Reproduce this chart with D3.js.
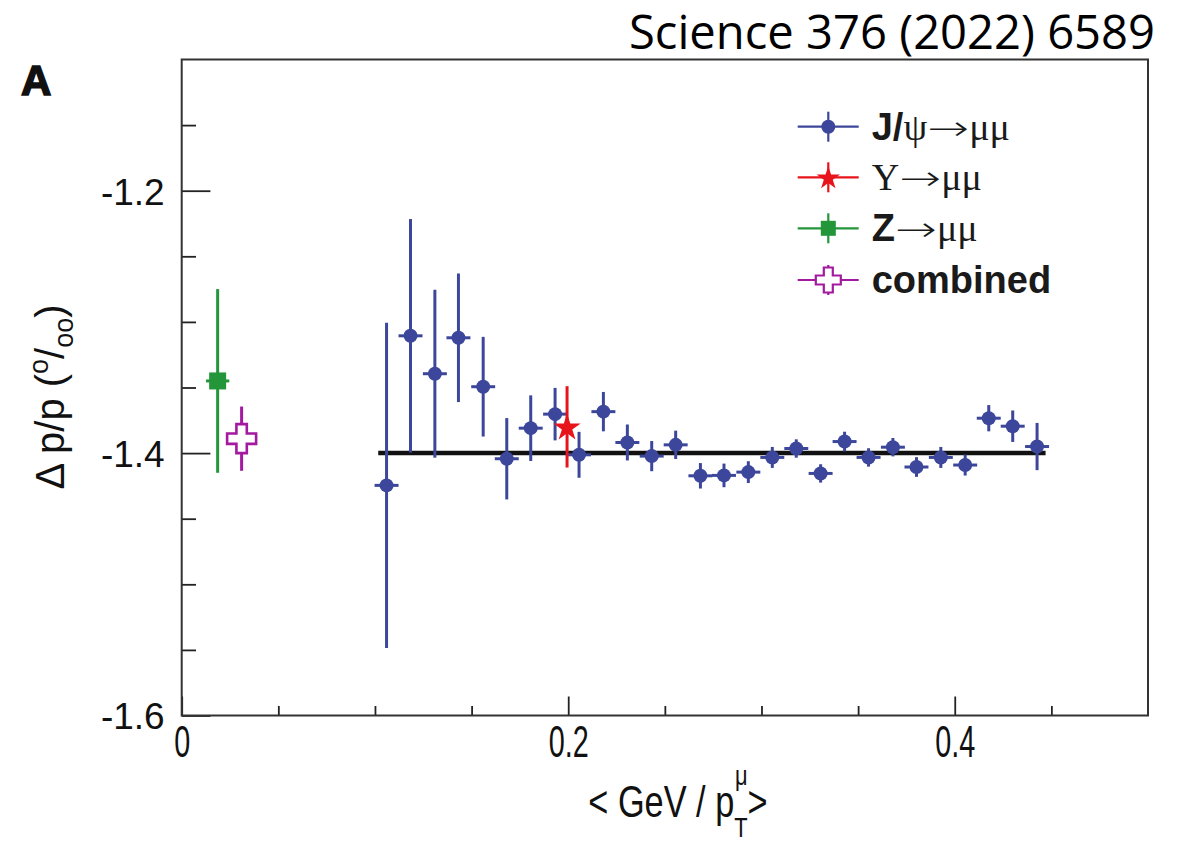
<!DOCTYPE html>
<html>
<head>
<meta charset="utf-8">
<script src="https://cdn.jsdelivr.net/npm/d3@7"></script>
<style>
  html, body { margin: 0; padding: 0; background: #fff; }
  svg { display: block; }
</style>
</head>
<body>
<svg id="chart" width="1181" height="843"></svg>
<script>
// J/psi -> mumu bins: mean GeV/pT, momentum scale offset (per mille), stat. error
const jpsiX = [0.106, 0.1184, 0.131, 0.1432, 0.156, 0.1682, 0.1806, 0.1932, 0.2056, 0.2182,
               0.2306, 0.2432, 0.2556, 0.2684, 0.2806, 0.2932, 0.3056, 0.318, 0.3306, 0.343,
               0.3554, 0.368, 0.3802, 0.3928, 0.4054, 0.4176, 0.43, 0.4426];
const jpsiY = [-1.4246, -1.3106, -1.3395, -1.3121, -1.3494, -1.4043, -1.381, -1.3703, -1.4013, -1.3684,
               -1.3919, -1.4023, -1.3937, -1.4173, -1.417, -1.4145, -1.4033, -1.3965, -1.4155, -1.3912,
               -1.4033, -1.3955, -1.4106, -1.4033, -1.4091, -1.3734, -1.3795, -1.395];
const jpsiErr = [0.124, 0.089, 0.064, 0.049, 0.038, 0.031, 0.025, 0.020, 0.0175, 0.015,
                 0.0137, 0.0115, 0.0108, 0.0097, 0.009, 0.0083, 0.008, 0.007, 0.007, 0.0075,
                 0.007, 0.007, 0.0075, 0.008, 0.008, 0.010, 0.012, 0.018];
const jpsiXErr = 0.0062;

// Upsilon -> mumu
const upsX = [0.1994];
const upsY = [-1.38];
const upsErr = [0.031];

// Z -> mumu
const zX = [0.0186];
const zY = [-1.345];
const zErr = [0.07];
const zXErr = 0.006;

// combined result
const combX = [0.031];
const combY = [-1.389];
const combErr = [0.0245];

// constant fit over the J/psi range
const fitRange = [0.1017, 0.447];
const fitValue = -1.4;

// axis ticks
const xMajorTicks = [0, 0.2, 0.4];
const xMinorTicks = [0.05, 0.1, 0.15, 0.25, 0.3, 0.35, 0.45];
const yMajorTicks = [-1.6, -1.4, -1.2];
const yMinorTicks = [-1.55, -1.5, -1.45, -1.35, -1.3, -1.25, -1.15];

const COL_JPSI = "#3c479b";
const COL_UPS = "#e8141b";
const COL_Z = "#23963a";
const COL_COMB = "#a3199f";

const svg = d3.select("#chart");
const frame = {left: 181.7, right: 1148, top: 59.5, bottom: 715.5};

const x = d3.scaleLinear().domain([0, 0.5]).range([frame.left, frame.right]);
const y = d3.scaleLinear().domain([-1.6, -1.1]).range([frame.bottom, frame.top]);

const SANS = "'Liberation Sans', Arial, Helvetica, sans-serif";
const SERIF = "'Liberation Serif', 'Times New Roman', serif";

// ---- axes ----
function styleAxis(g) {
  g.select(".domain").remove();
  g.selectAll(".tick line").attr("stroke", "#222").attr("stroke-width", 1.8);
}

svg.append("g").attr("transform", `translate(0,${frame.bottom})`)
  .call(d3.axisBottom(x).tickValues(xMinorTicks).tickSize(-9.5).tickFormat(""))
  .call(styleAxis);

const xAxisMajor = svg.append("g").attr("transform", `translate(0,${frame.bottom})`)
  .call(d3.axisBottom(x).tickValues(xMajorTicks).tickSize(-19).tickFormat(d3.format("")))
  .call(styleAxis);
xAxisMajor.selectAll(".tick text")
  .attr("y", 42).attr("dy", 0)
  .attr("transform", "scale(0.64,1)")
  .attr("font-size", null)
  .style("font-family", SANS).style("font-size", "45px").attr("fill", "#111");

svg.append("g").attr("transform", `translate(${frame.left},0)`)
  .call(d3.axisLeft(y).tickValues(yMinorTicks).tickSize(-14.3).tickFormat(""))
  .call(styleAxis);

const yAxisMajor = svg.append("g").attr("transform", `translate(${frame.left},0)`)
  .call(d3.axisLeft(y).tickValues(yMajorTicks).tickSize(-28.7).tickPadding(17).tickFormat(d3.format(".1f")))
  .call(styleAxis);
yAxisMajor.selectAll(".tick text")
  .text(d => d3.format(".1f")(d).replace("−", "-"))
  .attr("dy", "0.36em")
  .style("font-family", SANS).style("font-size", "37px").attr("fill", "#111");

// frame
svg.append("rect")
  .attr("x", frame.left).attr("y", frame.top)
  .attr("width", frame.right - frame.left).attr("height", frame.bottom - frame.top)
  .attr("fill", "none").attr("stroke", "#333").attr("stroke-width", 2);

// ---- fit line ----
svg.append("line")
  .attr("x1", x(fitRange[0])).attr("x2", x(fitRange[1]))
  .attr("y1", y(fitValue)).attr("y2", y(fitValue))
  .attr("stroke", "#111").attr("stroke-width", 4.5);

// ---- error bars helper ----
function errorBars(xs, ys, errs, xerr, color) {
  const g = svg.append("g").attr("stroke", color).attr("stroke-width", 3);
  xs.forEach((xv, i) => {
    g.append("line")
      .attr("x1", x(xv)).attr("x2", x(xv))
      .attr("y1", y(ys[i] + errs[i])).attr("y2", y(ys[i] - errs[i]));
    if (xerr) {
      g.append("line")
        .attr("x1", x(xv - xerr)).attr("x2", x(xv + xerr))
        .attr("y1", y(ys[i])).attr("y2", y(ys[i]));
    }
  });
}

function openCrossPath(s, a) {
  return `M${-a},${-s}L${a},${-s}L${a},${-a}L${s},${-a}L${s},${a}L${a},${a}L${a},${s}` +
         `L${-a},${s}L${-a},${a}L${-s},${a}L${-s},${-a}L${-a},${-a}Z`;
}

// J/psi
errorBars(jpsiX, jpsiY, jpsiErr, jpsiXErr, COL_JPSI);
svg.append("g").selectAll("circle").data(jpsiX).join("circle")
  .attr("cx", d => x(d)).attr("cy", (d, i) => y(jpsiY[i])).attr("r", 7)
  .attr("fill", COL_JPSI);

// Z
errorBars(zX, zY, zErr, zXErr, COL_Z);
svg.append("g").selectAll("rect").data(zX).join("rect")
  .attr("x", d => x(d) - 8.5).attr("y", (d, i) => y(zY[i]) - 8.5)
  .attr("width", 17).attr("height", 17).attr("fill", COL_Z);

// combined
errorBars(combX, combY, combErr, 0, COL_COMB);
svg.append("g").selectAll("path").data(combX).join("path")
  .attr("transform", (d, i) => `translate(${x(d)},${y(combY[i])})`)
  .attr("d", openCrossPath(14.5, 5.2))
  .attr("fill", "#fff").attr("stroke", COL_COMB).attr("stroke-width", 2.6);

// Upsilon
errorBars(upsX, upsY, upsErr, 0, COL_UPS);
svg.append("g").selectAll("path").data(upsX).join("path")
  .attr("transform", (d, i) => `translate(${x(d)},${y(upsY[i]) + 1})`)
  .attr("d", d3.symbol(d3.symbolStar, 230)())
  .attr("fill", COL_UPS);

// ---- legend ----
const leg = svg.append("g");
const legX0 = 797.7, legX1 = 858.7, legXm = 828.3, legTextX = 871.7;
const legY = [126.7, 177.3, 228.3, 280];
const legCols = [COL_JPSI, COL_UPS, COL_Z, COL_COMB];
legY.forEach((ly, i) => {
  leg.append("line").attr("x1", legX0).attr("x2", legX1).attr("y1", ly).attr("y2", ly)
    .attr("stroke", legCols[i]).attr("stroke-width", 2.2);
  leg.append("line").attr("x1", legXm).attr("x2", legXm).attr("y1", ly - 15).attr("y2", ly + 15)
    .attr("stroke", legCols[i]).attr("stroke-width", 2.2);
});
leg.append("circle").attr("cx", legXm).attr("cy", legY[0]).attr("r", 7).attr("fill", COL_JPSI);
leg.append("path").attr("transform", `translate(${legXm},${legY[1] + 1})`)
  .attr("d", d3.symbol(d3.symbolStar, 170)()).attr("fill", COL_UPS);
leg.append("rect").attr("x", legXm - 7.5).attr("y", legY[2] - 7.5).attr("width", 15).attr("height", 15)
  .attr("fill", COL_Z);
leg.append("path").attr("transform", `translate(${legXm},${legY[3]})`)
  .attr("d", openCrossPath(12.5, 4.5)).attr("fill", "#fff")
  .attr("stroke", COL_COMB).attr("stroke-width", 2.2);

// legend labels: bold sans parts, serif greek letters, a long thin arrow
function legendText(ly, parts) {
  const t = leg.append("text").attr("x", legTextX).attr("y", ly + 13)
    .style("font-size", "38px").attr("fill", "#1a1a1a");
  parts.forEach(p => {
    const ts = t.append("tspan").text(p.s)
      .style("font-family", p.serif ? SERIF : SANS)
      .style("font-weight", p.serif ? "normal" : "bold");
    if (p.arrow) {
      ts.attr("textLength", 42).attr("lengthAdjust", "spacingAndGlyphs")
        .style("font-family", "'DejaVu Sans', sans-serif").style("font-weight", "200")
        .style("font-size", "34px");
    }
  });
}
legendText(legY[0], [{s: "J/"}, {s: "ψ", serif: true}, {s: "→", serif: true, arrow: true}, {s: "μμ", serif: true}]);
legendText(legY[1], [{s: "Υ", serif: true}, {s: "→", serif: true, arrow: true}, {s: "μμ", serif: true}]);
legendText(legY[2], [{s: "Z"}, {s: "→", serif: true, arrow: true}, {s: "μμ", serif: true}]);
legendText(legY[3], [{s: "combined"}]);

// ---- axis titles ----
// x title: "< GeV / p_T^mu >", horizontally condensed
const xt = svg.append("g").attr("transform", "translate(678,817) scale(0.78,1)")
  .style("font-family", SANS).attr("fill", "#111");
const xtA = xt.append("text").style("font-size", "44px").text("< GeV / p");
const xtSub = xt.append("text").style("font-size", "28px").text("T");
const xtSup = xt.append("text").style("font-size", "28px").text("μ");
const xtB = xt.append("text").style("font-size", "44px").text(" >");
const wA = xtA.node().getComputedTextLength();
const wS = Math.max(xtSub.node().getComputedTextLength(), xtSup.node().getComputedTextLength());
const wB = xtB.node().getComputedTextLength();
const x0 = -(wA + wS + wB) / 2;
xtA.attr("x", x0);
xtSub.attr("x", x0 + wA).attr("y", 20);
xtSup.attr("x", x0 + wA + 1).attr("y", -32);
xtB.attr("x", x0 + wA + wS);

// y title: "Δ p/p (°/oo)"
const yt = svg.append("text")
  .attr("transform", "translate(64,397) rotate(-90)")
  .attr("text-anchor", "middle")
  .style("font-family", SANS).style("font-size", "40px").attr("fill", "#111");
yt.append("tspan").text("Δ p/p (");
yt.append("tspan").text("o").style("font-size", "27px").attr("dy", -16);
yt.append("tspan").text("/").attr("dy", 16);
yt.append("tspan").text("oo").style("font-size", "27px").attr("dy", 9);
yt.append("tspan").text(")").attr("dy", -9);

// panel letter
svg.append("text").attr("x", 21).attr("y", 95)
  .style("font-family", SANS).style("font-weight", 900).style("font-size", "42px")
  .attr("fill", "#111").attr("stroke", "#111").attr("stroke-width", 1.6)
  .text("A");

// journal reference, sized to span the same width as the plot's upper right
const ref = svg.append("text").attr("x", 1155).attr("y", 49).attr("text-anchor", "end")
  .style("font-family", "'Open Sans', sans-serif").style("font-size", "40px")
  .attr("fill", "#000").text("Science 376 (2022) 6589");
const refW = ref.node().getComputedTextLength();
ref.style("font-size", (40 * 526 / refW).toFixed(2) + "px");
</script>
</body>
</html>
